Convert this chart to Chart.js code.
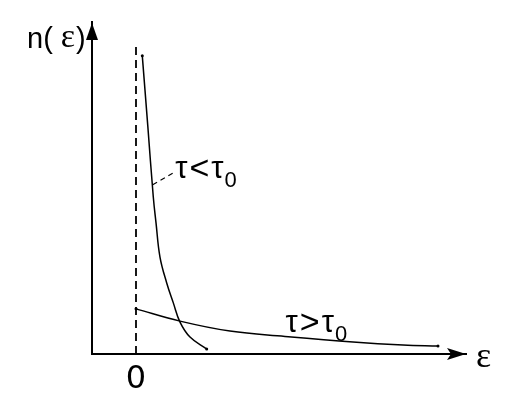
<!DOCTYPE html>
<html>
<head>
<meta charset="utf-8">
<script src="https://cdn.jsdelivr.net/npm/chart.js@4"></script>
<style>
  html, body { margin: 0; padding: 0; background: #fff; }
  #wrap { width: 524px; height: 412px; }
</style>
</head>
<body>
<div id="wrap"><canvas id="chart"></canvas></div>
<script>
// curve for tau < tau0 (steep)
const lowX = [0.143, 0.268, 0.393, 0.455, 0.545, 0.698, 0.848, 1.0, 1.227, 1.607];
const lowY = [8.98, 6.87, 4.73, 3.95, 2.92, 2.14, 1.54, 0.96, 0.51, 0.15];

// curve for tau > tau0 (flat)
const highX = [0, 1.0, 2.136, 3.386, 4.932, 6.068, 6.864];
const highY = [1.36, 0.99, 0.69, 0.53, 0.36, 0.27, 0.24];

// dashed line at eps = 0
const zeroX = [0, 0];
const zeroY = [0, 9.25];

const xTicks = [0];

function pts(xs, ys) {
  return xs.map((x, i) => ({ x: x, y: ys[i] }));
}
function endDots(n) {
  return Array.from({ length: n }, (_, i) => (i === 0 || i === n - 1) ? 1.5 : 0);
}

// arrows + labels
const extras = {
  id: 'extras',
  afterDatasetsDraw(chart) {
    const ctx = chart.ctx;
    const a = chart.chartArea;
    const xs = chart.scales.x, ys = chart.scales.y;
    ctx.save();
    ctx.fillStyle = '#000';
    ctx.strokeStyle = '#000';

    // y arrow
    ctx.beginPath();
    ctx.moveTo(a.left, a.top + 1);
    ctx.lineTo(a.left - 6, a.top + 18);
    ctx.lineTo(a.left + 6, a.top + 18);
    ctx.closePath();
    ctx.fill();

    // x arrow
    ctx.beginPath();
    ctx.moveTo(a.right, a.bottom);
    ctx.lineTo(a.right - 19, a.bottom - 6);
    ctx.lineTo(a.right - 15, a.bottom);
    ctx.lineTo(a.right - 19, a.bottom + 6);
    ctx.closePath();
    ctx.fill();

    // leader line to the steep curve
    ctx.lineWidth = 1.2;
    ctx.setLineDash([5, 4]);
    ctx.beginPath();
    ctx.moveTo(xs.getPixelForValue(0.38), ys.getPixelForValue(5.1));
    ctx.lineTo(xs.getPixelForValue(0.84), ys.getPixelForValue(5.45));
    ctx.stroke();
    ctx.setLineDash([]);

    ctx.textBaseline = 'alphabetic';
    ctx.textAlign = 'left';

    // y label n(ε)
    let x = 27, y = 48;
    ctx.font = '29px "Liberation Sans"';
    ctx.fillText('n(', x, y);
    x += ctx.measureText('n( ').width;
    ctx.font = '34px "Liberation Serif"';
    ctx.fillText('ε', x, y - 1);
    x += ctx.measureText('ε').width + 1;
    ctx.font = '29px "Liberation Sans"';
    ctx.fillText(')', x, y);

    // x label ε
    ctx.font = '36px "Liberation Serif"';
    ctx.fillText('ε', a.right + 10, a.bottom + 13);

    // curve labels
    function tauLabel(sign, px, py) {
      ctx.font = '31px "Liberation Sans"';
      ctx.fillText('τ', px, py);
      let cx = px + ctx.measureText('τ').width + 2;
      ctx.font = '34px "Liberation Sans"';
      ctx.fillText(sign, cx, py + 1);
      cx += ctx.measureText(sign).width + 2;
      ctx.font = '31px "Liberation Sans"';
      ctx.fillText('τ', cx, py);
      cx += ctx.measureText('τ').width + 1;
      ctx.font = '22px "Liberation Sans"';
      ctx.fillText('0', cx, py + 9);
    }
    tauLabel('<', xs.getPixelForValue(0.89), ys.getPixelForValue(5.3));
    tauLabel('>', xs.getPixelForValue(3.4), ys.getPixelForValue(0.66));

    ctx.restore();
  }
};

new Chart(document.getElementById('chart'), {
  type: 'scatter',
  data: {
    datasets: [
      {
        data: pts(zeroX, zeroY),
        showLine: true,
        borderColor: '#000',
        borderWidth: 1.8,
        borderDash: [8, 5],
        pointRadius: 0
      },
      {
        data: pts(lowX, lowY),
        showLine: true,
        tension: 0.4,
        borderColor: '#000',
        borderWidth: 1.5,
        pointRadius: endDots(lowX.length),
        pointBackgroundColor: '#000',
        pointBorderWidth: 0
      },
      {
        data: pts(highX, highY),
        showLine: true,
        tension: 0.4,
        borderColor: '#000',
        borderWidth: 1.5,
        pointRadius: endDots(highX.length),
        pointBackgroundColor: '#000',
        pointBorderWidth: 0
      }
    ]
  },
  options: {
    responsive: true,
    maintainAspectRatio: false,
    animation: false,
    layout: { padding: { left: 92, right: 58, top: 22, bottom: 0 } },
    plugins: { legend: { display: false }, tooltip: { enabled: false } },
    scales: {
      x: {
        type: 'linear',
        min: -1,
        max: 7.5,
        afterBuildTicks: s => { s.ticks = xTicks.map(v => ({ value: v })); },
        afterFit: s => { s.height = 58; },
        grid: { display: false, drawTicks: false },
        border: { display: true, color: '#000', width: 2 },
        ticks: { color: '#000', padding: 6, font: { family: 'DejaVu Sans', size: 32 } }
      },
      y: {
        type: 'linear',
        min: 0,
        max: 10,
        afterFit: s => { s.width = 0; },
        grid: { display: false, drawTicks: false },
        border: { display: true, color: '#000', width: 2 },
        ticks: { display: false }
      }
    }
  },
  plugins: [extras]
});
</script>
</body>
</html>
